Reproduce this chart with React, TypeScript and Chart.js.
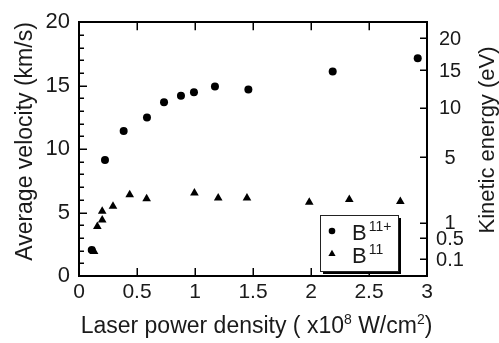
import React, { useEffect, useRef } from "react";
import { Chart, registerables } from "chart.js";

Chart.register(...registerables);

const FONT = '"Liberation Sans", Arial, Helvetica, sans-serif';

// B11+ ions (filled circles)
const laserPowerIon = [0.11, 0.224, 0.385, 0.586, 0.733, 0.879, 0.991, 1.172, 1.46, 2.187, 2.92];
const velocityIon = [2.05, 9.14, 11.42, 12.49, 13.69, 14.2, 14.48, 14.94, 14.69, 16.11, 17.16];

// B11 neutrals (filled triangles)
const laserPowerAtom = [0.13, 0.158, 0.2, 0.2, 0.293, 0.437, 0.583, 0.995, 1.2, 1.448, 1.985, 2.33, 2.77];
const velocityAtom = [1.94, 3.91, 4.42, 5.11, 5.49, 6.41, 6.08, 6.54, 6.15, 6.15, 5.82, 6.03, 5.88];

// axis ticks
const xTicks = [0, 0.5, 1, 1.5, 2, 2.5, 3];
const xTickLabels = ["0", "0.5", "1", "1.5", "2", "2.5", "3"];
const velocityTicks = [0, 5, 10, 15, 20];
const velocityTickLabels = ["0", "5", "10", "15", "20"];
const velocityMinorStep = 1;
const energyTicks = [0.1, 0.5, 1, 5, 10, 15, 20];
const energyTickLabels = ["0.1", "0.5", "1", "5", "10", "15", "20"];
// E[eV] = 0.5 * m * v^2 for mass 11 u, v in km/s
const EV_PER_KMS2 = 0.05701;

// legend
const legendBase = ["B", "B"];
const legendSup = ["11+", "11"];
const legendStyles = ["circle", "triangle"];

const xTitleParts = [
  { t: "Laser power density ( x10", sup: false },
  { t: "8", sup: true },
  { t: " W/cm", sup: false },
  { t: "2", sup: true },
  { t: ")", sup: false },
];
const yTitle = "Average velocity (km/s)";
const yRightTitle = "Kinetic energy (eV)";

const decorPlugin = {
  id: "decor",
  afterDraw(chart: any) {
    const ctx: CanvasRenderingContext2D = chart.ctx;
    const { left, right, top, bottom } = chart.chartArea;
    const xs = chart.scales.x;
    const ys = chart.scales.y;
    const line = (x1: number, y1: number, x2: number, y2: number) => {
      ctx.beginPath();
      ctx.moveTo(x1, y1);
      ctx.lineTo(x2, y2);
      ctx.stroke();
    };
    ctx.save();
    // frame
    ctx.strokeStyle = "#000";
    ctx.lineWidth = 2;
    ctx.strokeRect(Math.round(left), Math.round(top), Math.round(right - left), Math.round(bottom - top));

    ctx.lineWidth = 1.5;
    // inward ticks, bottom & top
    xTicks.forEach((v) => {
      const px = Math.round(xs.getPixelForValue(v)) + 0.25;
      line(px, bottom, px, bottom - 8);
      line(px, top, px, top + 8);
    });
    // left ticks
    for (let v = 0; v <= 20; v += velocityMinorStep) {
      const py = Math.round(ys.getPixelForValue(v)) + 0.25;
      const len = v % 5 === 0 ? 8 : 5;
      line(left, py, left + len, py);
    }
    // right ticks + labels (kinetic energy)
    ctx.fillStyle = "#1a1a1a";
    ctx.font = `20px ${FONT}`;
    ctx.textAlign = "center";
    ctx.textBaseline = "middle";
    energyTicks.forEach((e, i) => {
      const py = ys.getPixelForValue(Math.sqrt(e / EV_PER_KMS2));
      line(right, Math.round(py) + 0.25, right - 7, Math.round(py) + 0.25);
      ctx.fillText(energyTickLabels[i], right + 23, py + 1);
    });

    // left title
    ctx.font = `23px ${FONT}`;
    ctx.textBaseline = "alphabetic";
    ctx.textAlign = "center";
    ctx.save();
    ctx.translate(32, 141.5);
    ctx.rotate(-Math.PI / 2);
    ctx.fillText(yTitle, 0, 0);
    ctx.restore();

    // right title
    ctx.font = `22px ${FONT}`;
    ctx.save();
    ctx.translate(494, 140);
    ctx.rotate(-Math.PI / 2);
    ctx.fillText(yRightTitle, 0, 0);
    ctx.restore();

    // x title with superscripts
    const mainF = `23px ${FONT}`;
    const supF = `14px ${FONT}`;
    ctx.textAlign = "left";
    let total = 0;
    xTitleParts.forEach((p) => {
      ctx.font = p.sup ? supF : mainF;
      total += ctx.measureText(p.t).width;
    });
    let cx = 256.5 - total / 2;
    const base = 333;
    xTitleParts.forEach((p) => {
      ctx.font = p.sup ? supF : mainF;
      ctx.fillText(p.t, cx, p.sup ? base - 9 : base);
      cx += ctx.measureText(p.t).width;
    });

    // legend
    const lx = 320, ly = 215, lw = 78, lh = 56;
    ctx.fillStyle = "#000";
    ctx.fillRect(lx + 3, ly + 3, lw, lh);
    ctx.fillStyle = "#fff";
    ctx.fillRect(lx, ly, lw, lh);
    ctx.strokeStyle = "#222";
    ctx.lineWidth = 1;
    ctx.strokeRect(lx + 0.5, ly + 0.5, lw, lh);
    const rows = [231, 253.5];
    const bases = [240, 262.5];
    legendBase.forEach((b, i) => {
      const my = rows[i];
      ctx.fillStyle = "#000";
      ctx.beginPath();
      if (legendStyles[i] === "circle") {
        ctx.arc(332, my, 3.3, 0, Math.PI * 2);
      } else {
        ctx.moveTo(332, my - 3.8);
        ctx.lineTo(335.6, my + 2.6);
        ctx.lineTo(328.4, my + 2.6);
        ctx.closePath();
      }
      ctx.fill();
      ctx.fillStyle = "#1a1a1a";
      ctx.font = `22px ${FONT}`;
      ctx.textAlign = "left";
      ctx.fillText(b, 352, bases[i]);
      const bw = ctx.measureText(b).width;
      ctx.font = `14px ${FONT}`;
      ctx.fillText(legendSup[i], 352 + bw + 2, bases[i] - 9);
    });
    ctx.restore();
  },
};

export default function App() {
  const ref = useRef<HTMLCanvasElement>(null);
  useEffect(() => {
    const canvas = ref.current!;
    const noGrid = { display: false, drawTicks: false, tickLength: 0 };
    const noBorder = { display: false };
    const chart = new Chart(canvas, {
      type: "scatter",
      data: {
        datasets: [
          {
            label: "B11+",
            data: laserPowerIon.map((x, i) => ({ x, y: velocityIon[i] })),
            pointStyle: "circle",
            pointRadius: 4,
            backgroundColor: "#000",
            borderColor: "#000",
            borderWidth: 0,
          },
          {
            label: "B11",
            data: laserPowerAtom.map((x, i) => ({ x, y: velocityAtom[i] })),
            pointStyle: "triangle",
            pointRadius: 5,
            backgroundColor: "#000",
            borderColor: "#000",
            borderWidth: 0,
          },
        ],
      },
      options: {
        responsive: false,
        animation: false,
        devicePixelRatio: 1,
        events: [],
        layout: { padding: { top: 15, right: 72, left: 0, bottom: 0 } },
        plugins: { legend: { display: false }, tooltip: { enabled: false } },
        scales: {
          x: {
            type: "linear",
            display: true,
            position: "bottom",
            min: 0,
            max: 3,
            grid: noGrid,
            border: noBorder,
            afterBuildTicks: (s: any) => {
              s.ticks = xTicks.map((v) => ({ value: v }));
            },
            ticks: {
              callback: (_v: any, i: number) => xTickLabels[i],
              font: { family: FONT, size: 21 },
              color: "#1a1a1a",
              padding: 4,
              maxRotation: 0,
              autoSkip: false,
            },
            afterFit: (s: any) => {
              s.height = 67;
            },
          },
          y: {
            type: "linear",
            display: true,
            position: "left",
            min: 0,
            max: 20,
            grid: noGrid,
            border: noBorder,
            afterBuildTicks: (s: any) => {
              s.ticks = velocityTicks.map((v) => ({ value: v }));
            },
            ticks: {
              callback: (_v: any, i: number) => velocityTickLabels[i],
              font: { family: FONT, size: 22 },
              color: "#1a1a1a",
              padding: 9,
              autoSkip: false,
            },
            afterFit: (s: any) => {
              s.width = 79;
            },
          },
        },
      } as any,
      plugins: [decorPlugin],
    });
    return () => chart.destroy();
  }, []);
  return (
    <div style={{ position: "absolute", left: 0, top: 0, width: 499, height: 343, background: "#fff" }}>
      <canvas ref={ref} width={499} height={343} style={{ display: "block", width: 499, height: 343 }} />
    </div>
  );
}
